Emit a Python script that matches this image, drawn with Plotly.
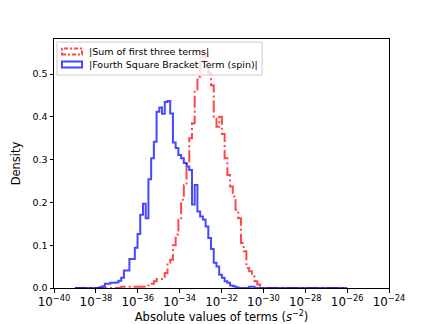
import numpy as np
import plotly.graph_objects as go

# histogram bins in log10(|term|), 100 equal-width bins
LOG_LO = -39.0
LOG_HI = -26.0
N_BINS = 100

# density of |Fourth Square Bracket Term (spin)| per bin
spin_density = [
    0, 0, 0, 0, 0, 0, 0, 0, 0,
    0.002, 0.004, 0.010, 0.010, 0.012, 0.012, 0.013, 0.017, 0.024, 0.041,
    0.041, 0.068, 0.068, 0.094, 0.126, 0.171, 0.197, 0.163, 0.254, 0.303,
    0.342, 0.412, 0.422, 0.407, 0.435, 0.437, 0.408, 0.340, 0.327, 0.311,
    0.303, 0.292, 0.284, 0.276, 0.195, 0.241, 0.179, 0.167, 0.160, 0.144,
    0.117, 0.091, 0.059, 0.050, 0.031, 0.024, 0.016, 0.012, 0.006, 0.004,
    0.002,
    0, 0, 0, 0,
    0.003, 0.003,
    0, 0, 0, 0, 0, 0, 0, 0, 0, 0, 0, 0, 0, 0, 0, 0, 0,
    0, 0, 0, 0, 0, 0, 0, 0, 0, 0, 0, 0, 0, 0, 0, 0, 0,
]

# density of |Sum of first three terms| per bin
sum_density = [
    0, 0, 0, 0, 0, 0, 0, 0, 0, 0, 0, 0, 0, 0, 0, 0, 0,
    0.003, 0.003, 0.003, 0.003, 0.003, 0.003, 0.003, 0.003, 0.003, 0.003,
    0.010, 0.010, 0.016, 0.021, 0.021, 0.021, 0.035, 0.059, 0.066, 0.100,
    0.125, 0.160, 0.206, 0.240, 0.290, 0.350, 0.385, 0.464, 0.494, 0.554,
    0.530, 0.547, 0.502, 0.474, 0.400, 0.377, 0.400, 0.360, 0.303, 0.264,
    0.237, 0.214, 0.183, 0.163, 0.105, 0.086, 0.047, 0.039, 0.027, 0.016,
    0.008, 0.003,
    0, 0, 0, 0, 0, 0, 0, 0, 0, 0, 0, 0, 0, 0, 0, 0,
    0, 0, 0, 0, 0, 0, 0, 0, 0, 0, 0, 0, 0, 0, 0,
]

legend_labels = ["|Sum of first three terms|", "|Fourth Square Bracket Term (spin)|"]

edges = 10 ** np.linspace(LOG_LO, LOG_HI, N_BINS + 1)


def step_xy(vals):
    # outline like matplotlib histtype="step"
    x = np.concatenate([[edges[0]], edges])
    y = np.concatenate([[0], vals, [0]])
    return x, y


RED = "rgba(255,0,0,0.72)"
BLUE = "rgba(0,0,255,0.72)"
DASHDOT = "12px,3px,2px,3px"

fig = go.Figure()
x, y = step_xy(sum_density)
fig.add_trace(go.Scatter(x=x, y=y, mode="lines", line_shape="hv",
                         line=dict(color=RED, width=2, dash=DASHDOT),
                         name=legend_labels[0], showlegend=False, hoverinfo="skip"))
x, y = step_xy(spin_density)
fig.add_trace(go.Scatter(x=x, y=y, mode="lines", line_shape="hv",
                         line=dict(color=BLUE, width=2),
                         name=legend_labels[1], showlegend=False, hoverinfo="skip"))

# hand-made legend with patch icons
W, H = 432, 324
L, R, T, B = 54, 388.8, 38.9, 288.4


def px(xp):
    return (xp - L) / (R - L)


def py(yp):
    return (B - yp) / (B - T)


fig.add_shape(type="rect", xref="paper", yref="paper",
              x0=px(57), x1=px(262), y0=py(75), y1=py(42),
              fillcolor="rgba(255,255,255,0.8)", line=dict(color="#cccccc", width=1),
              layer="above")
fig.add_shape(type="rect", xref="paper", yref="paper",
              x0=px(62), x1=px(82), y0=py(54.5), y1=py(48.5),
              fillcolor="rgba(0,0,0,0)", line=dict(color=RED, width=2, dash="4px,2px,2px,2px"),
              layer="above")
fig.add_shape(type="rect", xref="paper", yref="paper",
              x0=px(62), x1=px(82), y0=py(67.5), y1=py(61.5),
              fillcolor="rgba(0,0,0,0)", line=dict(color=BLUE, width=2),
              layer="above")
for lab, yc in zip(legend_labels, [51.5, 64.8]):
    fig.add_annotation(xref="paper", yref="paper", x=px(87), y=py(yc),
                       text=lab, showarrow=False, xanchor="left", yanchor="middle",
                       font=dict(size=9.5, color="black"))

fig.update_layout(
    width=W, height=H,
    margin=dict(l=L, r=W - R, t=T, b=H - B, pad=0, autoexpand=False),
    paper_bgcolor="white", plot_bgcolor="white",
    font=dict(family="DejaVu Sans", size=9.5, color="black"),
    showlegend=False,
)
fig.update_xaxes(
    type="log", range=[-40, -24], dtick=2, exponentformat="power",
    showline=True, linecolor="black", linewidth=1, mirror=True, automargin=False,
    ticks="outside", ticklen=3.5, tickcolor="black", showgrid=False, zeroline=False,
    title=dict(text="Absolute values of terms (<i>s</i><sup>−2</sup>)",
               font=dict(size=11.5), standoff=4),
)
fig.update_yaxes(
    range=[0, 0.582], dtick=0.1, tickformat=".1f",
    showline=True, linecolor="black", linewidth=1, mirror=True, automargin=False,
    ticks="outside", ticklen=3.5, tickcolor="black", showgrid=False, zeroline=False,
    title=dict(text="Density", font=dict(size=11.5), standoff=9),
)

# the page body has a default 8px margin; drop it so the figure sits at (0, 0)
fig.write_html("out.html", config={"displayModeBar": False},
               post_script="document.body.style.margin = '0';")
